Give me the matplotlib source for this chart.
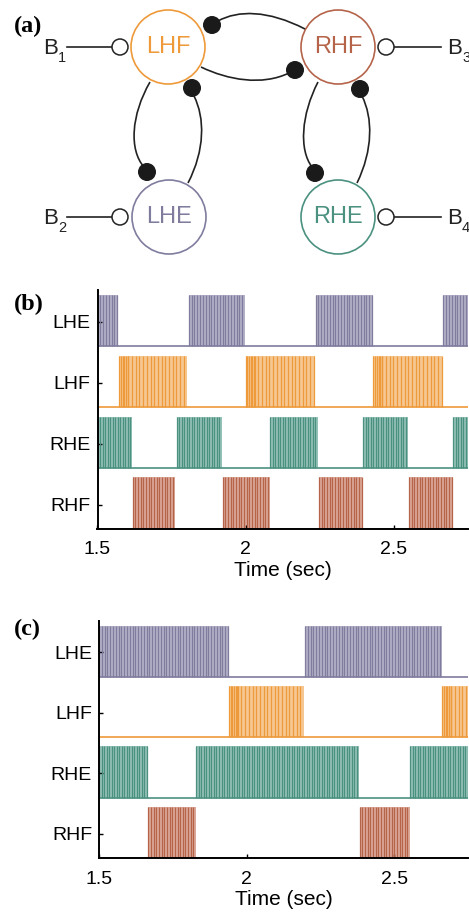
import numpy as np
import matplotlib
matplotlib.use("Agg")
import matplotlib.pyplot as plt
from matplotlib.patches import Circle, PathPatch, Rectangle
from matplotlib.path import Path

plt.rcParams["font.family"] = ["Liberation Sans", "DejaVu Sans"]

# --- colours for the four half-centre neurons
COL = {"LHE": "#7f7c9e", "LHF": "#ee9a3a", "RHE": "#4b9180", "RHF": "#b5644a"}
FILL = {"LHE": "#b3b1c8", "LHF": "#f6c792", "RHE": "#95c2b7", "RHF": "#dca897"}

rows = ["LHE", "LHF", "RHE", "RHF"]

# --- panel (b): burst windows (sec)
lhe_b = [(1.500, 1.570), (1.808, 1.998), (2.236, 2.428), (2.667, 2.750)]
lhf_b = [(1.574, 1.803), (2.000, 2.233), (2.431, 2.662)]
rhe_b = [(1.500, 1.615), (1.767, 1.920), (2.082, 2.243), (2.396, 2.548), (2.700, 2.750)]
rhf_b = [(1.619, 1.763), (1.922, 2.081), (2.247, 2.393), (2.551, 2.698)]

# --- panel (c): burst windows (sec)
lhe_c = [(1.500, 1.939), (2.198, 2.662)]
lhf_c = [(1.940, 2.193), (2.663, 2.750)]
rhe_c = [(1.500, 1.666), (1.830, 2.381), (2.554, 2.750)]
rhf_c = [(1.667, 1.828), (2.383, 2.552)]

# inter-spike interval inside a burst (sec), and denser onset for LHF
isi = {"LHE": 0.0095, "LHF": 0.0125, "RHE": 0.0085, "RHF": 0.0090}
onset = {"LHE": 0.0, "LHF": 0.030, "RHE": 0.0, "RHF": 0.0}

xticks = [1.5, 2, 2.5]
xticklabels = ["1.5", "2", "2.5"]

W, H = 469, 914
fig = plt.figure(figsize=(W / 100, H / 100), dpi=100)


def raster(ax, bursts):
    h = 0.845
    for i, nm in enumerate(rows):
        base = 3 - i
        ax.plot([1.5, 2.75], [base, base], color=COL[nm], lw=1.2, zorder=2)
        for t0, t1 in bursts[nm]:
            ax.add_patch(Rectangle((t0, base), t1 - t0, h, facecolor=FILL[nm],
                                   edgecolor="none", zorder=1))
            dense = np.arange(t0, t0 + onset[nm], isi[nm] / 2.2)
            rest = np.arange(t0 + onset[nm], t1, isi[nm])
            ts = np.concatenate([dense, rest])
            ax.vlines(ts, base, base + h, color=COL[nm], lw=0.9, zorder=2)
    ax.set_xlim(1.5, 2.75)
    ax.set_ylim(0, 3.92)
    ax.set_yticks([3.4, 2.4, 1.4, 0.4])
    ax.set_yticklabels(rows, fontsize=14)
    ax.set_xticks(xticks)
    ax.set_xticklabels(xticklabels, fontsize=14)
    ax.tick_params(direction="in", length=3, width=1, pad=5)
    ax.tick_params(axis="x", pad=9)
    ax.set_xlabel("Time (sec)", fontsize=15, labelpad=2)
    for s in ("top", "right"):
        ax.spines[s].set_visible(False)
    for s in ("left", "bottom"):
        ax.spines[s].set_linewidth(1.4)
        ax.spines[s].set_zorder(5)


# --- panel (a): network diagram in pixel coordinates
axa = fig.add_axes([0, 1 - 258 / H, 1, 258 / H])
axa.set_xlim(0, W)
axa.set_ylim(258, 0)
axa.axis("off")

nodes = {"LHF": (168, 47), "RHF": (338, 47), "LHE": (169, 217), "RHE": (338, 217)}
for nm, (cx, cy) in nodes.items():
    axa.add_patch(Circle((cx, cy), 37, fill=False, edgecolor=COL[nm], lw=1.2))
    axa.text(cx, cy, nm, color=COL[nm], fontsize=17, ha="center", va="center")

curves = [
    [(218, 21), (238, 10), (268, 10), (305, 29)],
    [(201, 67), (228, 80), (262, 86), (289, 73)],
    [(150, 82), (131, 115), (129, 150), (144, 167)],
    [(188, 183), (205, 150), (205, 118), (194, 96)],
    [(318, 82), (301, 115), (299, 150), (312, 167)],
    [(357, 183), (373, 150), (373, 118), (362, 96)],
]
for pts in curves:
    p = Path(pts, [Path.MOVETO, Path.CURVE4, Path.CURVE4, Path.CURVE4])
    axa.add_patch(PathPatch(p, fill=False, edgecolor="#222222", lw=1.2))

for cx, cy in [(212, 25), (295, 70), (192, 88), (147, 172), (360, 89), (315, 173)]:
    axa.add_patch(Circle((cx, cy), 8.3, facecolor="#1a1a1a", edgecolor="#1a1a1a", zorder=3))

inputs = [("1", 47, "left"), ("2", 217, "left"), ("3", 47, "right"), ("4", 217, "right")]
for sub, y, side in inputs:
    if side == "left":
        axa.plot([67, 112], [y, y], color="#222222", lw=1.2)
        axa.add_patch(Circle((120, y), 8, facecolor="white", edgecolor="#222222", lw=1.1, zorder=3))
        bx = 43
    else:
        axa.plot([394, 441], [y, y], color="#222222", lw=1.2)
        axa.add_patch(Circle((386, y), 8, facecolor="white", edgecolor="#222222", lw=1.1, zorder=3))
        bx = 447
    axa.text(bx, y + 1, "B", fontsize=16, ha="left", va="center", color="#222222")
    axa.text(bx + 15, y + 11, sub, fontsize=10.5, ha="left", va="center", color="#222222")

axa.text(14, 26, "(a)", fontsize=17.5, fontweight="bold", family="Liberation Serif",
         ha="left", va="center")

# --- panel (b)
axb = fig.add_axes([97.5 / W, 1 - 529 / H, (468 - 97.5) / W, 239 / H])
raster(axb, {"LHE": lhe_b, "LHF": lhf_b, "RHE": rhe_b, "RHF": rhf_b})
fig.text(14 / W, 1 - 304 / H, "(b)", fontsize=17.5, fontweight="bold",
         family="Liberation Serif", ha="left", va="center")

# --- panel (c)
axc = fig.add_axes([99 / W, 1 - 858 / H, (468 - 99) / W, 237 / H])
raster(axc, {"LHE": lhe_c, "LHF": lhf_c, "RHE": rhe_c, "RHF": rhf_c})
fig.text(14 / W, 1 - 629 / H, "(c)", fontsize=17.5, fontweight="bold",
         family="Liberation Serif", ha="left", va="center")

fig.savefig("out.png", dpi=100)
